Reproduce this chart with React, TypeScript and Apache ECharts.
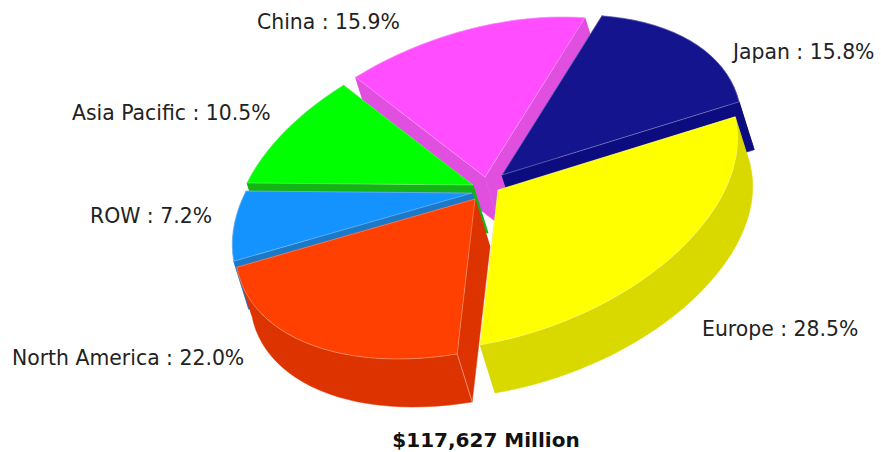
import React, { useEffect, useRef } from "react";
import * as echarts from "echarts";

// Data, clockwise from the left-hand edge of the pie
const categories = ["Asia Pacific", "China", "Japan", "Europe", "North America", "ROW"];
const shares = [10.5, 15.9, 15.8, 28.5, 22.0, 7.2];
const totalLabel = "$117,627 Million";

// Colours
const topColors = ["#00FF00", "#FF4DFF", "#14148F", "#FFFF00", "#FF4000", "#1493FF"];
const sideColors = ["#14B414", "#E04FE0", "#0C0C80", "#D9D900", "#DD3300", "#1C78C8"];

// Layout of the projected pie
const center = [484, 187];
const shear = { xx: 226, xy: -80, yx: 2, yy: 160 };
const depth = [15, 48];
const explode = [[-11, -2], [1, -10], [18, -12], [14, 3], [-9, 12], [-12, 6]];
const paintOrder = [1, 0, 2, 5, 4, 3];
const labelAnchors = [[72, 113], [257, 22], [733, 52], [702, 329], [12, 358], [90, 216]];
const seamedSlice = 4;

const total = shares.reduce((a, b) => a + b, 0);
const starts: number[] = [];
shares.reduce((acc, v, i) => {
  starts[i] = acc;
  return acc + (v / total) * 360;
}, 0);

function rimPoint(phiDeg: number, o: number[]): number[] {
  const p = (phiDeg * Math.PI) / 180;
  const x = -Math.cos(p);
  const y = -Math.sin(p);
  return [
    center[0] + o[0] + shear.xx * x + shear.xy * y,
    center[1] + o[1] + shear.yx * x + shear.yy * y,
  ];
}
const drop = (p: number[]) => [p[0] + depth[0], p[1] + depth[1]];

function renderSlice(_: unknown, api: any) {
  const i = api.value(0) as number;
  const v = api.value(1) as number;
  const o = explode[i];
  const from = starts[i];
  const sweep = (v / total) * 360;
  const steps = Math.max(8, Math.ceil(sweep / 3));
  const arc: number[][] = [];
  for (let s = 0; s <= steps; s++) arc.push(rimPoint(from + (sweep * s) / steps, o));
  const apex = [center[0] + o[0], center[1] + o[1]];
  const first = arc[0];
  const last = arc[arc.length - 1];
  const side = { fill: sideColors[i], stroke: sideColors[i], lineWidth: 0.5 };
  const children: any[] = [
    { type: "polygon", shape: { points: [apex, first, drop(first), drop(apex)] }, style: side },
    { type: "polygon", shape: { points: [apex, last, drop(last), drop(apex)] }, style: side },
    {
      type: "polygon",
      shape: { points: [...arc, ...arc.slice().reverse().map(drop)] },
      style: side,
    },
  ];
  if (i === seamedSlice) {
    children.push({
      type: "line",
      shape: { x1: first[0], y1: first[1], x2: drop(first)[0], y2: drop(first)[1] },
      style: { stroke: "rgba(255,255,255,0.4)", lineWidth: 1 },
    });
  }
  children.push({
    type: "polygon",
    shape: { points: [apex, ...arc] },
    style: { fill: topColors[i], stroke: "rgba(255,255,255,0.3)", lineWidth: 1 },
  });
  return { type: "group", children };
}

export default function App() {
  const ref = useRef<HTMLDivElement>(null);
  useEffect(() => {
    const chart = echarts.init(ref.current!, undefined, { renderer: "svg" });
    chart.setOption({
      animation: false,
      backgroundColor: "#fff",
      series: [
        {
          type: "custom",
          coordinateSystem: "none",
          silent: true,
          renderItem: renderSlice,
          data: paintOrder.map((i) => ({ name: categories[i], value: [i, shares[i]] })),
        },
      ],
      graphic: [
        ...categories.map((name, i) => ({
          type: "text",
          x: labelAnchors[i][0],
          y: labelAnchors[i][1],
          silent: true,
          style: {
            text: `${name} : ${shares[i].toFixed(1)}%`,
            font: '20.4px "DejaVu Sans"',
            fill: "#222",
            verticalAlign: "middle",
          },
        })),
        {
          type: "text",
          x: 486,
          y: 440,
          silent: true,
          style: {
            text: totalLabel,
            font: 'bold 20px "DejaVu Sans"',
            fill: "#111",
            align: "center",
            verticalAlign: "middle",
          },
        },
      ],
    });
    return () => chart.dispose();
  }, []);
  return <div ref={ref} style={{ position: "fixed", left: 0, top: 0, width: 881, height: 452 }} />;
}
